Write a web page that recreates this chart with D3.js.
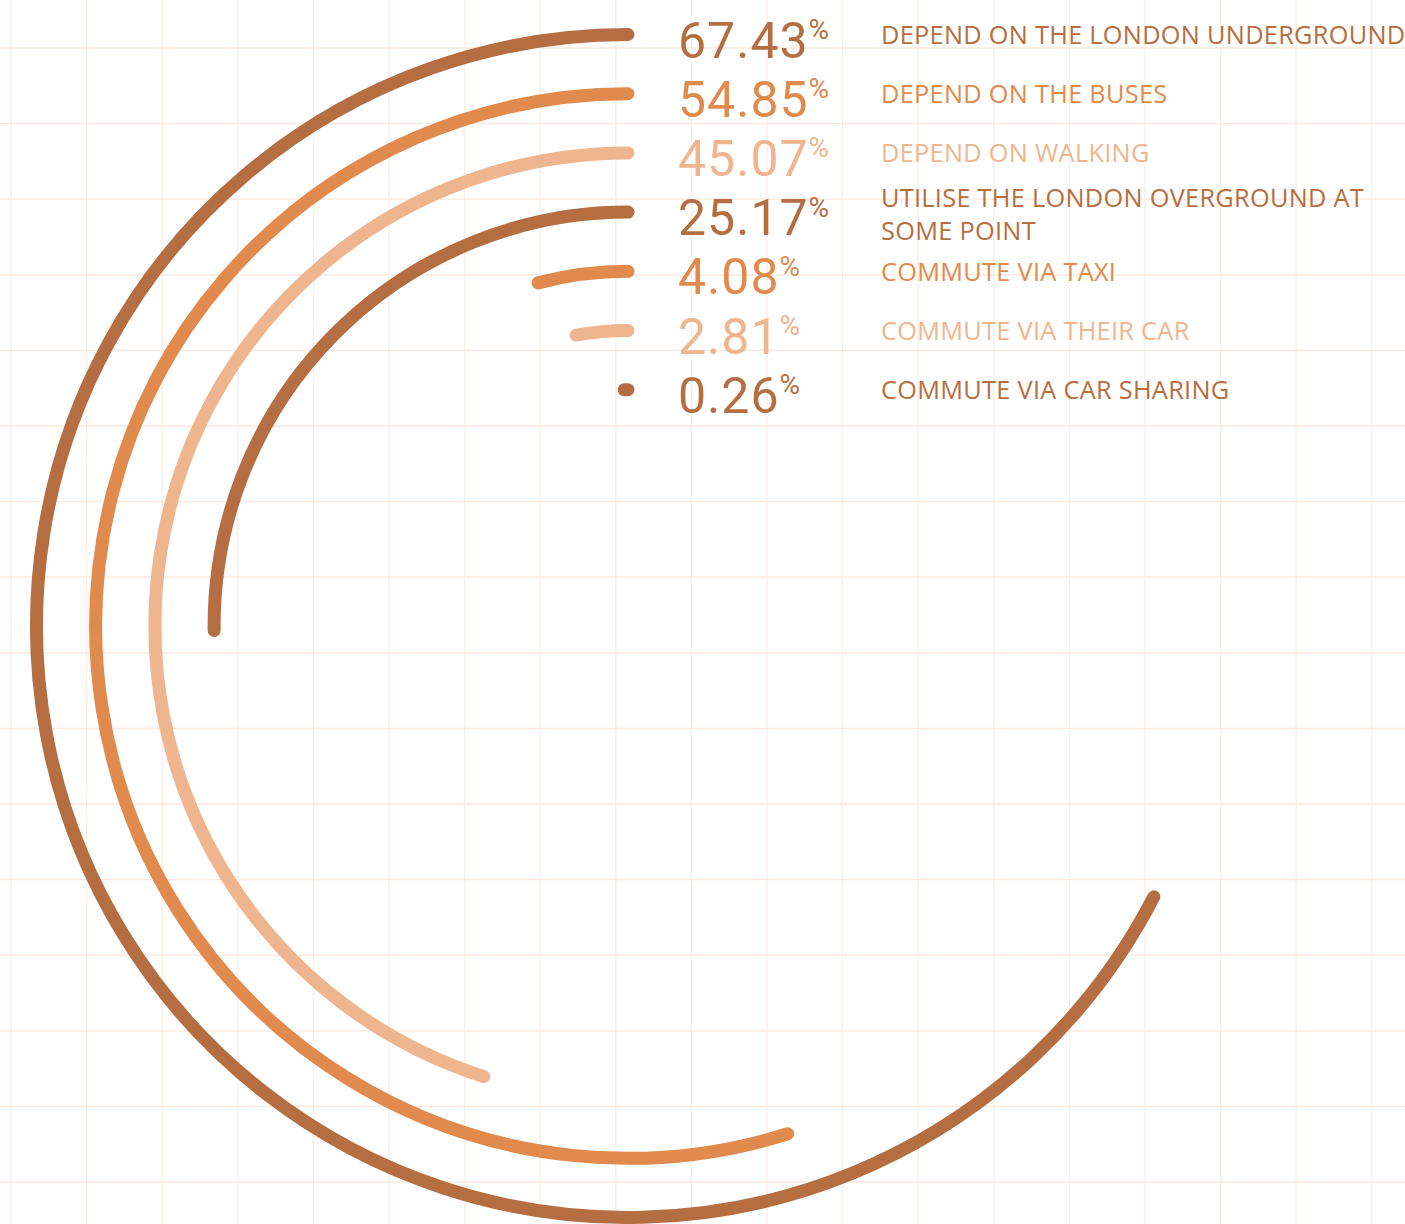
<!DOCTYPE html>
<html>
<head>
<meta charset="utf-8">
<script src="https://cdn.jsdelivr.net/npm/d3@7"></script>
<style>
  html, body { margin: 0; padding: 0; background: #ffffff; }
  svg { display: block; }
</style>
</head>
<body>
<svg id="chart" width="1405" height="1224"></svg>
<script>
// ---- data ----
const categories = [
  "DEPEND ON THE LONDON UNDERGROUND",
  "DEPEND ON THE BUSES",
  "DEPEND ON WALKING",
  "UTILISE THE LONDON OVERGROUND AT SOME POINT",
  "COMMUTE VIA TAXI",
  "COMMUTE VIA THEIR CAR",
  "COMMUTE VIA CAR SHARING"
];
const values = [67.43, 54.85, 45.07, 25.17, 4.08, 2.81, 0.26];
const palette = ["#b46e41", "#e08a4d", "#eeb58f"];

// ---- layout ----
const W = 1405, H = 1224;
const cx = 628, cy = 626;
const svg = d3.select("#chart");

// background grid
const gridStep = 75.6;
const gx = d3.range(11, W, gridStep);
const gy = d3.range(48, H, gridStep);
const grid = svg.append("g").attr("class", "grid");
grid.selectAll("line.v").data(gx).join("line")
  .attr("class", "v")
  .attr("x1", d => d).attr("x2", d => d)
  .attr("y1", 0).attr("y2", H)
  .attr("stroke", "#faede5").attr("stroke-width", 1.3);
grid.selectAll("line.h").data(gy).join("line")
  .attr("class", "h")
  .attr("x1", 0).attr("x2", W)
  .attr("y1", d => d).attr("y2", d => d)
  .attr("stroke", "#fce8dc").attr("stroke-width", 1.3);

// scales
const r = d3.scalePoint().domain(categories).range([591.5, 236.3]);
const angle = d3.scaleLinear().domain([0, 100]).range([0, 2 * Math.PI]);
const color = d3.scaleOrdinal().domain(categories).range(palette);

const data = categories.map((c, i) => ({ cat: c, value: values[i] }));

// arcs: start at 12 o'clock, sweep counter-clockwise
function arcPath(d) {
  const p = d3.path();
  const a0 = -Math.PI / 2;
  const a1 = a0 - angle(d.value);
  const rad = r(d.cat);
  p.moveTo(cx + rad * Math.cos(a0), cy + rad * Math.sin(a0));
  p.arc(cx, cy, rad, a0, a1, true);
  return p.toString();
}

svg.append("g").selectAll("path").data(data).join("path")
  .attr("d", arcPath)
  .attr("fill", "none")
  .attr("stroke", d => color(d.cat))
  .attr("stroke-width", 13)
  .attr("stroke-linecap", "round");

// value labels (number + superscript %)
const numFont = "Roboto, 'Open Sans', sans-serif";
const font = "'Open Sans', 'DejaVu Sans', sans-serif";
const valG = svg.append("g");
data.forEach(d => {
  const y = cy - r(d.cat);
  const t = valG.append("text")
    .attr("x", 678)
    .attr("y", y + 23)
    .attr("fill", color(d.cat))
    .attr("font-family", numFont)
    .attr("font-size", 50)
    .attr("letter-spacing", 1);
  t.append("tspan").text(d3.format(".2f")(d.value));
  t.append("tspan")
    .attr("dy", -18.5)
    .attr("dx", 0)
    .attr("font-size", 28)
    .attr("letter-spacing", 0)
    .text("%");
});

// category labels with wrapping
const labG = svg.append("g");
const maxW = 536;
const labSize = 25.3;
data.forEach(d => {
  const y = cy - r(d.cat);
  const t = labG.append("text")
    .attr("x", 881)
    .attr("fill", color(d.cat))
    .attr("font-family", font)
    .attr("font-size", labSize)
    .attr("letter-spacing", 0.3);
  const words = d.cat.split(" ");
  let lines = [], line = [];
  const probe = labG.append("text").attr("font-family", font)
    .attr("font-size", labSize).attr("letter-spacing", 0.3);
  words.forEach(wd => {
    const test = line.concat([wd]).join(" ");
    probe.text(test);
    if (probe.node().getComputedTextLength() > maxW && line.length) {
      lines.push(line.join(" "));
      line = [wd];
    } else {
      line.push(wd);
    }
  });
  lines.push(line.join(" "));
  probe.remove();
  const lh = 33;
  const base = lines.length === 1 ? y + 9.5 : y - 5;
  lines.forEach((ln, i) => {
    t.append("tspan").attr("x", 881).attr("y", base + i * lh).text(ln);
  });
});
</script>
</body>
</html>
